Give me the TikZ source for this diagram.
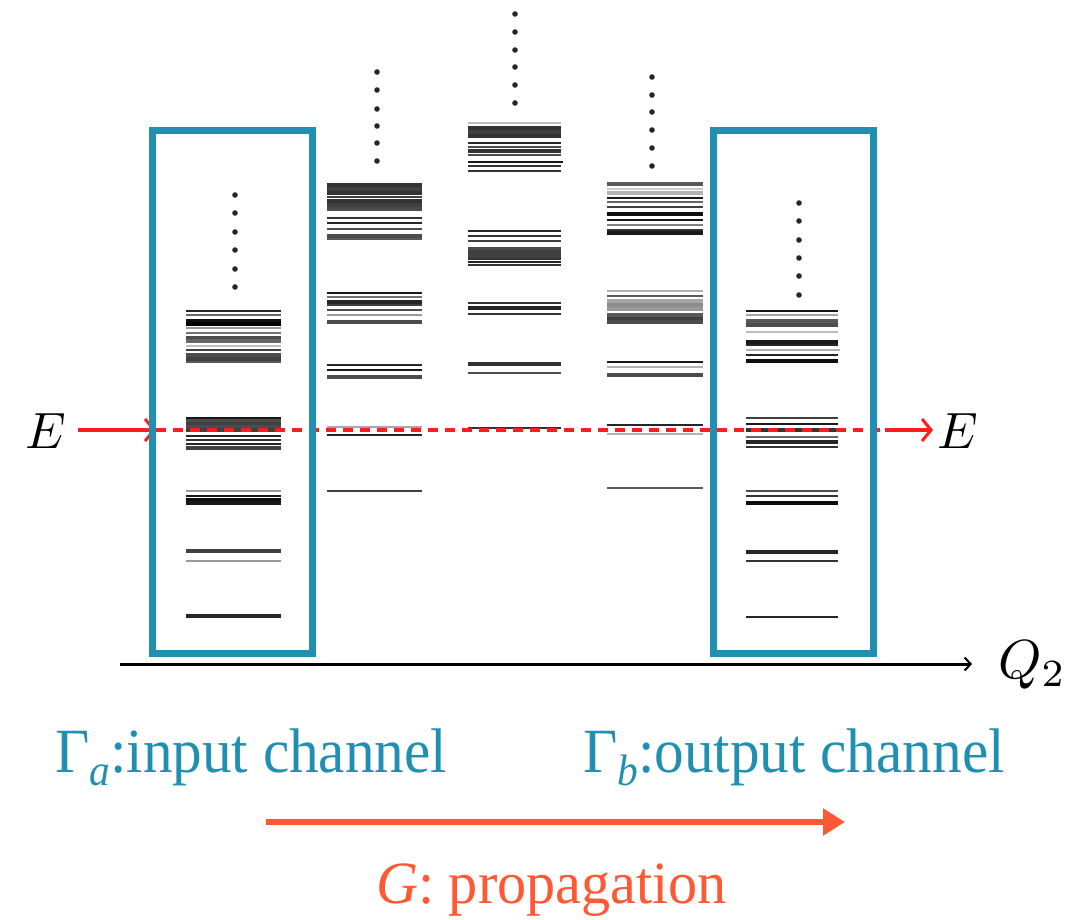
\documentclass[tikz,border=0pt]{standalone}
\usepackage{fontspec}
\usetikzlibrary{arrows.meta}
\newfontfamily\tms{Liberation Serif}
\definecolor{blu}{RGB}{33,143,178}
\definecolor{org}{RGB}{255,88,52}
\definecolor{rd}{RGB}{255,28,28}
\newcommand\lvls[3]{\foreach \yy/\gg/\ww in {#3} {\draw[line width={1.35*\ww pt}, black!\gg, line cap=butt] (#1,\yy) -- (#2,\yy);}}
\newcommand\dotcol[2]{\foreach \yy in {#2} {\fill[black!85] (#1,\yy) circle (2.8pt);}}
\tikzset{
  chanbox/.style={draw=blu, line width=7pt},
  redsolid/.style={rd, line width=3.5pt, -{Straight Barb[length=9pt,width=22pt,line width=3pt]}},
  reddash/.style={rd, line width=3.2pt, dash pattern=on 10pt off 7pt},
  lbl/.style={anchor=base west, inner sep=0pt},
  mathlbl/.style={anchor=base west, inner sep=4pt}
}
\begin{document}
\begin{tikzpicture}[x=1pt,y=-1pt]
\useasboundingbox (0,0) rectangle (1082,919);
% column 1
\lvls{186}{281}{311/85/1.8, 315/60/1.5, 321/95/2.5, 324/100/2.5, 328/40/2, 333/55/1.5, 338/70/2.5, 341/60/2.5, 346/25/2, 350/75/2, 355/70/3, 359/75/3, 362/65/2,
418/90/2, 421/70/2.5, 424/75/2.5, 427/70/2.5, 430/75/2.5, 436/85/2, 440/80/2, 444/85/2, 448/75/2.5,
491/40/2, 496/90/2, 500/95/2.5, 503/90/2.5, 551/75/3, 561/40/2, 616/85/2.5}
\dotcol{235}{195,213,232,250,269,287}
% column 2
\lvls{327}{422}{185/80/2.5, 189/75/2.5, 193/80/2.5, 197/75/2, 201/80/2.5, 205/75/2.5, 209/70/2.5, 218/80/2, 223/85/2, 229/70/2, 236/70/3, 239/65/2,
293/90/2, 297/55/2, 302/85/2.5, 305/75/2, 310/70/2, 315/40/2, 322/70/3.5,
365/85/2, 370/90/2, 377/70/3.5, 427/35/2, 435/85/2, 491/75/2}
\dotcol{377}{72,90,109,126,143,161}
% column 3
\lvls{468}{561}{123/25/2, 128/80/3, 132/75/3, 136/80/3, 143/85/2, 147/70/2, 151/80/2.5, 155/70/2, 166/80/2, 171/80/2,
231/85/2, 236/80/2, 241/75/2, 249/70/2.5, 252/75/2.5, 256/75/2.5, 259/80/2, 262/85/2, 265/80/2,
303/80/2, 308/85/2.5, 314/80/2, 364/80/2.5, 373/70/2, 428/80/2}
\lvls{468}{563}{162/90/1.5}
\dotcol{515}{14,32,50,67,85,103}
% column 4
\lvls{607}{703}{184/65/3, 189/20/2, 193/30/2.5, 198/90/2, 202/60/2, 207/75/2, 214/95/3, 220/90/2, 225/50/2, 230/80/2, 233/90/2.5,
291/30/1.5, 296/65/1.5, 301/35/2.5, 305/45/3, 309/40/2.5, 315/65/3, 319/75/3, 322/70/2.5,
362/90/2, 367/30/1.5, 375/70/3.5, 425/85/2, 434/30/2, 488/65/1.5}
\dotcol{652}{77,95,112,130,148,166}
% column 5
\lvls{746}{838}{311/90/2, 315/35/2, 321/65/3, 325/70/3, 332/25/2, 342/90/3, 345/85/2, 355/85/2, 361/95/3,
418/75/2, 424/90/2, 430/80/2.5, 437/60/2, 442/85/2.5, 447/80/2,
491/70/2, 496/80/2, 503/95/3, 552/85/2.5, 561/80/2, 617/85/2}
\lvls{746}{840}{350/30/1.5}
\dotcol{799}{203,221,240,258,276,295}
% energy line
\node[mathlbl] (El) at (21,448) {\scalebox{5.1}{$E$}};
\node[mathlbl] (Er) at (933,448) {\scalebox{5.1}{$E$}};
\coordinate (rin) at (156,430);
\coordinate (rout) at (885,430);
\draw[redsolid, shorten <=8pt] (El.east |- rin) -- (rin);
\draw[reddash] (rin) -- (rout);
\draw[redsolid] (rout) -- (Er.west |- rout);
% channel boxes
\draw[chanbox] (152,130) rectangle (312,653);
\draw[chanbox] (713,130) rectangle (873,653);
% axis
\node[anchor=base west, inner sep=0pt] (Q) at (998,678) {\scalebox{5.5}{$Q_2$}};
\coordinate (ax0) at (120,664);
\coordinate (ax1) at (972,664);
\draw[line width=3pt, -{Straight Barb[length=6pt,width=13pt,line width=2pt]}] (ax0) -- (ax1);
% labels
\node[lbl, text=blu] (ga) at (55,772) {\scalebox{0.94}[1]{\tms\fontsize{63}{70}\selectfont Γ\raisebox{-13pt}{\fontsize{44}{44}\selectfont\itshape a}:input channel}};
\node[lbl, text=blu] (gb) at (583,772) {\scalebox{0.94}[1]{\tms\fontsize{63}{70}\selectfont Γ\raisebox{-13pt}{\fontsize{44}{44}\selectfont\itshape b}:output channel}};
\coordinate (g0) at (266,822);
\coordinate (g1) at (845,822);
\draw[org, line width=6pt, -{Triangle[length=22pt,width=26pt]}] (g0) -- (g1);
\node[lbl, text=org] (gp) at (376,903) {\scalebox{0.97}[1]{\tms\fontsize{60}{68}\selectfont{\itshape G}: propagation}};
\end{tikzpicture}
\end{document}
